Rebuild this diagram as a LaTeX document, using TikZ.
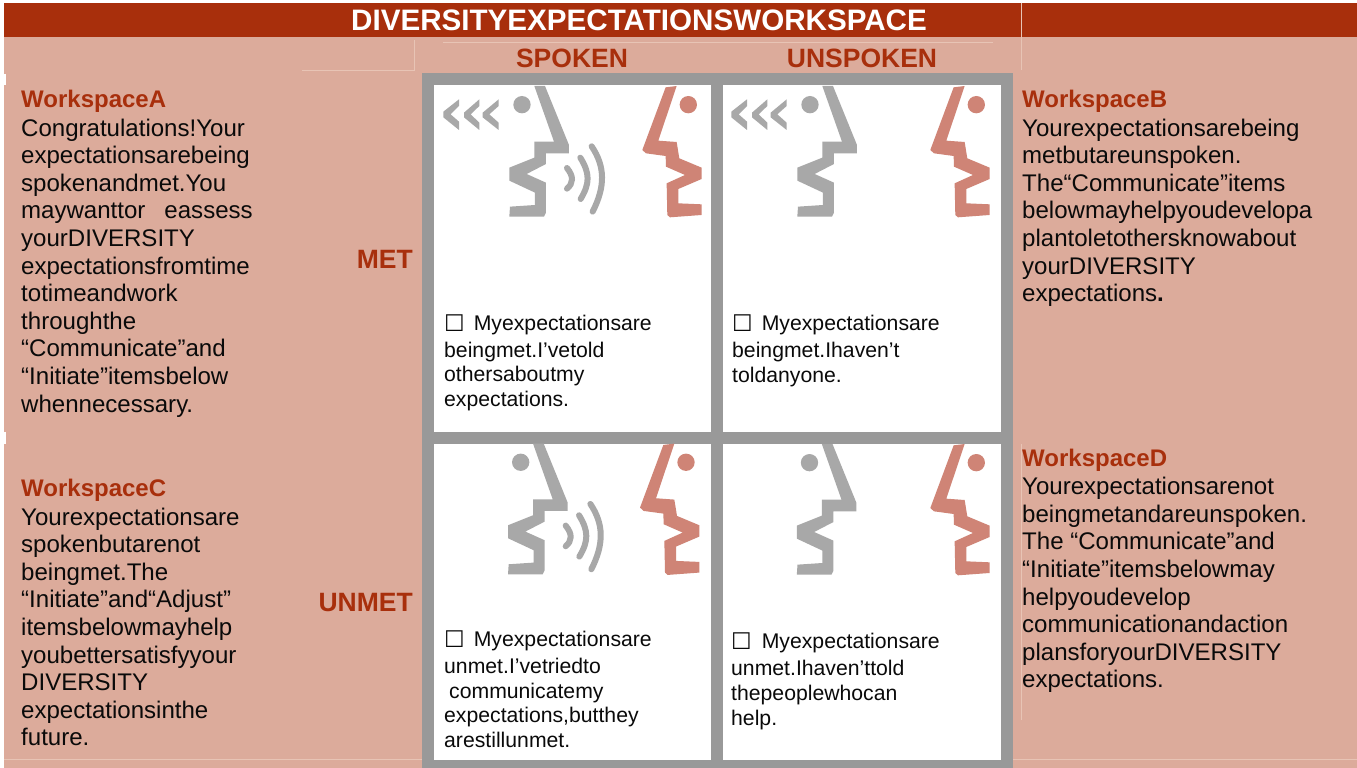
\documentclass[tikz,border=0pt]{standalone}
\usepackage{fontspec}
\setmainfont{Liberation Sans}
\newfontfamily\symfont{DejaVu Sans}
\definecolor{hdr}{RGB}{168,47,12}
\definecolor{salmon}{RGB}{220,171,155}
\definecolor{lightln}{RGB}{232,196,181}
\definecolor{gridgray}{RGB}{153,153,153}
\definecolor{facegray}{RGB}{168,168,168}
\definecolor{facered}{RGB}{207,132,118}
\definecolor{ink}{RGB}{10,10,10}
\newcommand{\chk}{{\symfont\fontsize{23}{23}\selectfont\raisebox{-1pt}{☐}}}
\tikzset{
  sidetext/.style={anchor=north west,inner sep=0pt,align=left,text=ink,font=\fontsize{24.05}{27.6}\selectfont},
  celltext/.style={anchor=north west,inner sep=0pt,align=left,text=ink,font=\fontsize{21.2}{25}\selectfont},
  headtext/.style={anchor=base west,inner sep=0pt,text=hdr,font=\bfseries\fontsize{24}{27}\selectfont},
  coltext/.style={anchor=center,inner sep=0pt,text=hdr,font=\bfseries\fontsize{26.5}{30}\selectfont},
  rowtext/.style={anchor=base east,inner sep=0pt,text=hdr,font=\bfseries\fontsize{26.5}{30}\selectfont},
  lightline/.style={draw=lightln,line width=0.8pt},
  wave/.style={draw=facegray,line width=6pt,line cap=round},
}
\newcommand{\grayhead}[2]{%
 \begin{scope}[shift={(420pt+#1pt,-70pt-#2pt)},x=0.3333pt,y=-0.3333pt]
  \fill[facegray] (343,48)--(375,48)--(447,225)--(447,250)--(378,250)--(378,282)--(320,312)--(378,338)--(378,428)--(372,440)--(268,440)--(270,410)--(345,405)--(345,368)--(268,332)--(268,293)--(343,263)--(343,215)--(402,215)--cycle;
  \fill[facegray] (306,104) circle[radius=26];
 \end{scope}}
\newcommand{\redhead}[2]{%
 \begin{scope}[shift={(420pt+#1pt,-70pt-#2pt)},x=0.3333pt,y=-0.3333pt]
  \fill[facered] (737,52)--(770,48)--(715,212)--(770,216)--(778,265)--(845,293)--(845,327)--(775,357)--(775,400)--(845,403)--(845,435)--(750,442)--(742,435)--(740,340)--(795,315)--(738,290)--(737,258)--(678,250)--(667,240)--cycle;
  \fill[facered] (805,104) circle[radius=26];
 \end{scope}}
\newcommand{\soundwaves}[2]{%
 \begin{scope}[shift={(420pt+#1pt,-70pt-#2pt)},x=0.3333pt,y=-0.3333pt]
  \draw[wave] (441,294) .. controls (462,320) and (460,340) .. (441,356);
  \draw[wave] (481,263) .. controls (510,310) and (510,340) .. (482,387);
  \draw[wave] (515,229) .. controls (556,290) and (556,350) .. (518,425);
 \end{scope}}
\newcommand{\chevrons}[2]{%
 \begin{scope}[shift={(420pt+#1pt,-70pt-#2pt)},x=0.3333pt,y=-0.3333pt]
  \fill[facegray] (117,88)--(117,108)--(92,133)--(117,155)--(117,180)--(70,142)--(70,125)--cycle;
  \fill[facegray] (178,88)--(178,108)--(152,133)--(178,158)--(178,180)--(132,142)--(132,128)--cycle;
  \fill[facegray] (236,88)--(236,108)--(208,133)--(236,158)--(236,180)--(188,142)--(188,128)--cycle;
 \end{scope}}
\begin{document}
\begin{tikzpicture}[x=1pt,y=-1pt]
\useasboundingbox (0,0) rectangle (1357,768);
% backgrounds
\fill[salmon] (4,37) rectangle (1357,768);
\fill[hdr] (4,3) rectangle (1357,37);
\fill[white] (0,74) rectangle (6,85);
\fill[white] (0,432) rectangle (6,444);
% thin light rules
\draw[lightline] (302,70) -- (414,70) -- (414,40);
\draw[lightline] (443,42) -- (993,42);
\draw[lightline] (1021,3) -- (1021,70);
\draw[lightline] (1021,444) -- (1021,720);
\draw[lightline] (4,759) -- (422,759);
\draw[lightline] (1013,759) -- (1357,759);
% grid
\fill[gridgray] (422,73) rectangle (1013,768);
\fill[white] (434,85) rectangle (711,432);
\fill[white] (723,85) rectangle (1001,432);
\fill[white] (434,444) rectangle (711,760);
\fill[white] (723,444) rectangle (1001,760);
% heads
\grayhead{0}{0}\redhead{0}{0}\soundwaves{0}{0}\chevrons{0}{0}
\grayhead{288}{0}\redhead{288}{0}\chevrons{288}{0}
\grayhead{-1.3}{357.6}\redhead{-2.3}{357.6}\soundwaves{-1.3}{357.6}
\grayhead{287.5}{358}\redhead{288}{358}
% titles
\node[anchor=center,inner sep=0pt,text=white,font=\bfseries\fontsize{29.6}{34}\selectfont] (title) at (639,20) {DIVERSITYEXPECTATIONSWORKSPACE};
\node[coltext] (spoken) at (572,58) {SPOKEN};
\node[coltext] (unspoken) at (862,58) {UNSPOKEN};
\node[rowtext] (met) at (413,268) {MET};
\node[rowtext] (unmet) at (413,611) {UNMET};
% left column
\node[headtext] (wa) at (21,107) {WorkspaceA};
\node[sidetext] (ta) at (21,118.5) {Congratulations!Your\\expectationsarebeing\\spokenandmet.You\\maywanttor\hspace{19pt}eassess\\yourDIVERSITY\\expectationsfromtime\\totimeandwork\\throughthe\\“Communicate”and\\“Initiate”itemsbelow\\whennecessary.};
\node[headtext] (wc) at (21,496) {WorkspaceC};
\node[sidetext] (tc) at (21,507.5) {Yourexpectationsare\\spokenbutarenot\\beingmet.The\\“Initiate”and“Adjust”\\itemsbelowmayhelp\\youbettersatisfyyour\\DIVERSITY\\expectationsinthe\\future.};
% right column
\node[headtext] (wb) at (1022,107) {WorkspaceB};
\node[sidetext] (tb) at (1022,118.5) {Yourexpectationsarebeing\\metbutareunspoken.\\The“Communicate”items\\belowmayhelpyoudevelopa\\plantoletothersknowabout\\yourDIVERSITY\\expectations\textbf{.}};
\node[headtext] (wd) at (1022,466) {WorkspaceD};
\node[sidetext] (td) at (1022,477) {Yourexpectationsarenot\\beingmetandareunspoken.\\The “Communicate”and\\“Initiate”itemsbelowmay\\helpyoudevelop\\communicationandaction\\plansforyourDIVERSITY\\expectations.};
% cell captions
\node[celltext] (ca) at (444,315) {\chk\hspace{9pt}Myexpectationsare\\[2pt]beingmet.I’vetold\\[-1pt]othersaboutmy\\expectations.};
\node[celltext] (cb) at (732,315) {\chk\hspace{9pt}Myexpectationsare\\[2pt]beingmet.Ihaven’t\\toldanyone.};
\node[celltext] (cc) at (444,631) {\chk\hspace{9pt}Myexpectationsare\\[2pt]unmet.I’vetriedto\\\hspace*{5pt}communicatemy\\[-1pt]expectations,butthey\\arestillunmet.};
\node[celltext] (cd) at (731,633) {\chk\hspace{10pt}Myexpectationsare\\[2pt]unmet.Ihaven’ttold\\thepeoplewhocan\\help.};
\end{tikzpicture}
\end{document}
